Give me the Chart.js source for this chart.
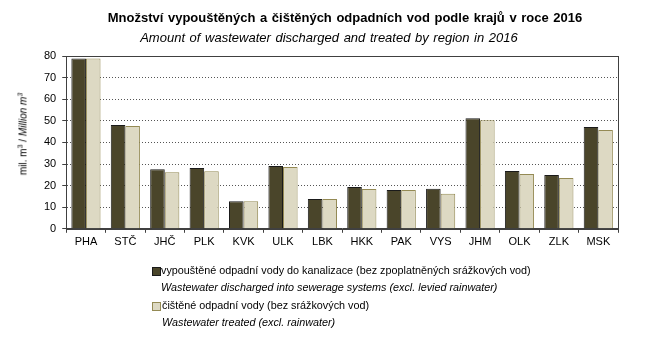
<!DOCTYPE html>
<html>
<head>
<meta charset="utf-8">
<script src="https://cdn.jsdelivr.net/npm/chart.js@4"></script>
<style>
  body { margin: 0; background: #fff; font-family: "Liberation Sans", Arial, sans-serif; }
  #wrap { position: relative; width: 645px; height: 344px; }
  .txt { position: absolute; white-space: nowrap; color: #000; }
  #title { top: 10px; left: 0; width: 690px; text-align: center; font-weight: bold; font-size: 13px; word-spacing: 1px; }
  #subtitle { top: 30px; left: 0; width: 658px; text-align: center; font-style: italic; font-size: 13px; word-spacing: 1px; }
  #ytitle { left: 23px; top: 134px; font-size: 10px; transform: translate(-50%, -50%) rotate(-90deg); }
  #ytitle sup { font-size: 7px; vertical-align: 4px; line-height: 0; }
  .leg { font-size: 10.8px; }
  .box { position: absolute; width: 7px; height: 7px; }
</style>
</head>
<body>
<div id="wrap">
  <canvas id="chart" width="645" height="344"></canvas>
  <div class="txt" id="title">Množství vypouštěných a čištěných odpadních vod podle krajů v roce 2016</div>
  <div class="txt" id="subtitle">Amount of wastewater discharged and treated by region in 2016</div>
  <div class="txt" id="ytitle">mil. m<sup>3</sup> / <i>Million m<sup>3</sup></i></div>
  <div class="box" style="left:152px; top:267px; background:#4a452a; border:1px solid #1a1a1a;"></div>
  <div class="txt leg" style="left:161px; top:264px;">vypouštěné odpadní vody do kanalizace (bez zpoplatněných srážkových vod)</div>
  <div class="txt leg" style="left:161px; top:281px; font-style:italic;">Wastewater discharged into sewerage systems (excl. levied rainwater)</div>
  <div class="box" style="left:152px; top:302px; background:#ddd9c3; border:1px solid #948a54;"></div>
  <div class="txt leg" style="left:162px; top:299px;">čištěné odpadní vody (bez srážkových vod)</div>
  <div class="txt leg" style="left:162px; top:316px; font-style:italic;">Wastewater treated (excl. rainwater)</div>
</div>
<script>
const regions = ['PHA', 'STČ', 'JHČ', 'PLK', 'KVK', 'ULK', 'LBK', 'HKK', 'PAK', 'VYS', 'JHM', 'OLK', 'ZLK', 'MSK'];
const discharged = [78.8, 48.1, 27.6, 28.1, 12.8, 29.1, 13.8, 19.3, 18.0, 18.5, 51.2, 26.8, 24.9, 47.1];
const treated = [78.8, 47.6, 26.2, 26.7, 12.8, 28.6, 13.8, 18.4, 18.0, 16.2, 50.3, 25.4, 23.5, 45.7];
const yMin = 0;
const yMax = 80;
const yStep = 10;

// frame round the plot area
const frame = {
  id: 'frame',
  afterDraw(chart) {
    const { ctx, chartArea: a } = chart;
    ctx.save();
    ctx.strokeStyle = '#404040';
    ctx.lineWidth = 1;
    ctx.strokeRect(Math.round(a.left) + 0.5, Math.round(a.top) + 0.5,
      Math.round(a.right - a.left), Math.round(a.bottom - a.top));
    ctx.restore();
  }
};

Chart.defaults.font.family = '"Liberation Sans", Arial, sans-serif';
Chart.defaults.color = '#000';

new Chart(document.getElementById('chart'), {
  type: 'bar',
  data: {
    labels: regions,
    datasets: [{
      label: 'vypouštěné odpadní vody do kanalizace',
      data: discharged,
      backgroundColor: '#4a452a',
      borderColor: '#1a1a1a',
      borderWidth: 1
    }, {
      label: 'čištěné odpadní vody',
      data: treated,
      backgroundColor: '#ddd9c3',
      borderColor: '#948a54',
      borderWidth: 1
    }]
  },
  options: {
    responsive: false,
    animation: false,
    layout: { padding: { top: 56, left: 38, right: 27, bottom: 92 } },
    plugins: {
      legend: { display: false },
      tooltip: { enabled: false }
    },
    datasets: { bar: { categoryPercentage: 0.74, barPercentage: 1 } },
    scales: {
      x: {
        grid: { offset: true, drawOnChartArea: false, tickLength: 4, tickColor: '#404040' },
        border: { color: '#404040' },
        ticks: { font: { size: 11 }, padding: 3 }
      },
      y: {
        min: yMin,
        max: yMax,
        ticks: { stepSize: yStep, font: { size: 11 }, padding: 6 },
        grid: { color: '#555', tickBorderDash: [], tickColor: '#404040', tickLength: 4 },
        border: { color: '#404040', dash: [1, 2] }
      }
    }
  },
  plugins: [frame]
});
</script>
</body>
</html>
